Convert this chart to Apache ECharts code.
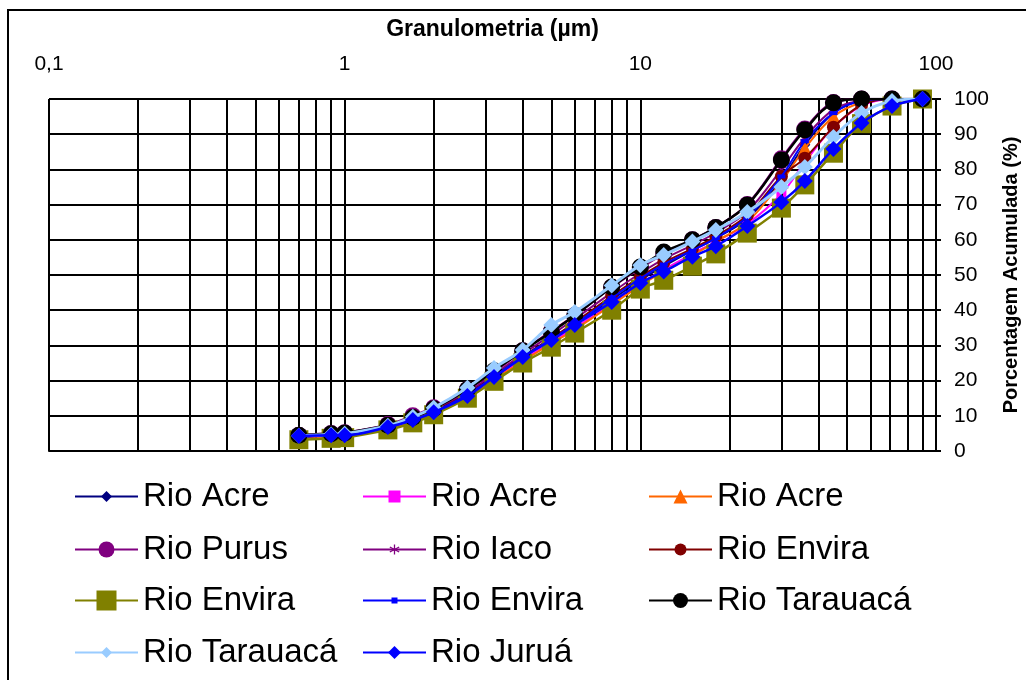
<!DOCTYPE html>
<html>
<head>
<meta charset="utf-8">
<script src="https://cdn.jsdelivr.net/npm/echarts@6/dist/echarts.min.js"></script>
<style>
html,body{margin:0;padding:0;background:#fff;}
#chart{width:1026px;height:680px;}
</style>
</head>
<body>
<div id="chart"></div>
<script>
// ---- data ----
const sizes = [0.7, 0.9, 1.0, 1.4, 1.7, 2.0, 2.6, 3.2, 4.0, 5.0, 6.0, 8.0, 10, 12, 15, 18, 23, 30, 36, 45, 56, 71, 90];
const minorTicks = [0.2,0.3,0.4,0.5,0.6,0.7,0.8,0.9,2,3,4,5,6,7,8,9,20,30,40,50,60,70,80,90];
const seriesNames = ["Rio Acre","Rio Acre","Rio Acre","Rio Purus","Rio Iaco","Rio Envira","Rio Envira","Rio Envira","Rio Tarauacá","Rio Tarauacá","Rio Juruá"];
const acre1     = [4.0,4.5,4.7,6.8,9.0,11.3,16.3,21.3,26.8,32.0,36.0,43.0,48.5,52.5,57.0,60.5,66.0,77.0,87.0,96.0,99.5,100,100];
const acre2     = [3.8,4.2,4.4,6.5,8.5,10.8,15.8,20.5,26.0,31.0,35.0,42.0,47.5,51.5,56.0,59.5,64.5,73.0,82.0,92.0,98.0,100,100];
const acre3     = [3.8,4.2,4.4,6.5,8.5,10.8,15.6,20.3,25.5,30.5,34.5,41.5,47.0,51.0,55.5,59.5,65.0,76.5,86.0,95.0,99.0,100,100];
const purus     = [4.5,5.0,5.2,7.5,10.0,12.3,17.5,22.5,28.5,34.0,38.5,46.5,52.0,56.0,60.0,63.5,70.0,83.0,91.5,99.0,100,100,100];
const iaco      = [4.2,4.6,4.8,7.0,9.3,11.6,16.8,21.8,27.5,33.0,37.5,45.0,50.5,54.5,58.5,62.0,68.0,80.0,89.0,97.0,99.5,100,100];
const envira1   = [4.0,4.5,4.7,6.9,9.0,11.2,16.2,21.2,26.8,32.0,36.5,44.0,49.5,53.5,57.5,61.0,67.0,78.0,83.2,92.0,98.3,100,100];
const envira2   = [3.2,3.6,3.8,6.0,8.0,10.3,15.0,19.8,25.0,29.5,33.5,40.0,46.0,48.5,52.5,56.0,61.9,69.0,75.6,84.6,93.0,98.0,100];
const envira3   = [4.0,4.4,4.6,6.8,8.8,11.0,16.0,21.0,26.5,31.8,36.0,43.5,49.0,53.0,57.0,60.5,66.5,78.0,88.0,96.0,99.5,100,100];
const tarauaca1 = [4.5,4.9,5.1,7.3,9.5,12.0,17.5,22.8,28.5,33.8,38.5,46.6,52.3,56.5,60.0,63.5,69.9,82.7,91.2,98.9,100,100,100];
const tarauaca2 = [4.3,4.7,4.9,7.2,9.7,12.3,18.0,23.6,28.7,35.8,39.5,47.0,52.8,55.7,59.5,62.8,67.9,75.0,80.7,89.2,96.0,99.4,100];
const jurua     = [4.3,4.5,4.5,6.8,8.8,11.0,15.6,21.0,26.7,31.5,35.8,42.3,47.7,51.0,55.2,58.2,63.9,70.7,76.7,85.8,93.2,98.0,100];
const yTicks = {min: 0, max: 100, interval: 10};
const xRange = {min: 0.1, max: 100};

const allValues = [acre1, acre2, acre3, purus, iaco, envira1, envira2, envira3, tarauaca1, tarauaca2, jurua];

// ---- styles ----
const asterisk = 'path://M-1.2,-10L1.2,-10L1.2,10L-1.2,10Z M-9.26,-3.96L-8.06,-6.04L9.26,3.96L8.06,6.04Z M8.06,-6.04L9.26,-3.96L-8.06,6.04L-9.26,3.96Z';
const styles = [
  {color:'#000080', symbol:'diamond', size:11, lw:2},
  {color:'#FF00FF', symbol:'rect', size:10, lw:2},
  {color:'#FF6600', symbol:'triangle', size:14, lw:2},
  {color:'#800080', symbol:'circle', size:17, lw:2.5},
  {color:'#800080', symbol:asterisk, size:10, lw:2},
  {color:'#800000', symbol:'circle', size:13, lw:2},
  {color:'#808000', symbol:'rect', size:19, lw:2.5},
  {color:'#0000FF', symbol:'rect', size:[8,4], lw:2},
  {color:'#000000', symbol:'circle', size:17, lw:2.5},
  {color:'#99CCFF', symbol:'diamond', size:16, lw:3},
  {color:'#0000FF', symbol:'diamond', size:16, lw:2.5}
];
const legendIcon = [11, 12, 14, 16, 10, 12, 20, 6, 15, 11, 13];

// unique internal names (zero-width suffixes) so duplicate labels get their own legend item
const uid = seriesNames.map((n, i) => n + '\u200B'.repeat(i));

const series = [{
  type: 'line', name: '__grid', data: [[0.1, 0]], showSymbol: false, symbol: 'none',
  lineStyle: {width: 0, opacity: 0}, silent: true, z: 1,
  markLine: {
    silent: true, symbol: 'none', label: {show: false},
    lineStyle: {color: '#000', width: 2, type: 'solid'},
    data: minorTicks.map(v => ({xAxis: v}))
  }
}];
allValues.forEach((vals, i) => {
  const st = styles[i];
  series.push({
    type: 'line', name: uid[i],
    data: sizes.map((s, k) => [s, vals[k]]),
    smooth: 0.35,
    symbol: st.symbol, symbolSize: st.size, showAllSymbol: true,
    itemStyle: {color: st.color, borderWidth: 0},
    lineStyle: {color: st.color, width: st.lw},
    z: 3 + i, animation: false
  });
});

const colX = [74, 362, 648];
const rowY = [495, 548, 599, 651];
const legends = uid.map((n, i) => {
  const col = i % 3, row = Math.floor(i / 3);
  return {
    show: true, selectedMode: false, data: [n],
    left: colX[col], top: rowY[row] - 15, padding: 0, itemGap: 0,
    itemWidth: 63, itemHeight: legendIcon[i] / 0.8,
    textStyle: {fontSize: 33, color: '#000', fontFamily: 'Liberation Sans, Arial, sans-serif'},
    formatter: name => name.replace(/\u200B/g, '')
  };
});

const chart = echarts.init(document.getElementById('chart'), null, {renderer: 'canvas'});
chart.setOption({
  animation: false,
  backgroundColor: '#fff',
  textStyle: {fontFamily: 'Liberation Sans, Arial, sans-serif'},
  grid: {left: 49, right: 90, top: 99, bottom: 229, containLabel: false, outerBoundsMode: 'none'},
  graphic: [{
    type: 'rect', shape: {x: 8, y: 10, width: 1040, height: 700},
    style: {fill: null, stroke: '#000', lineWidth: 2}, silent: true, z: 0
  }],
  legend: legends,
  xAxis: {
    type: 'log', logBase: 10, min: xRange.min, max: xRange.max, position: 'top',
    name: 'Granulometria (µm)', nameLocation: 'middle', nameGap: 58, nameMoveOverlap: false,
    nameTextStyle: {fontSize: 23, fontWeight: 'bold', color: '#000'},
    axisLine: {show: true, lineStyle: {color: '#000', width: 2}},
    axisTick: {show: true, length: 5, lineStyle: {color: '#000', width: 2}},
    axisLabel: {fontSize: 21, color: '#000', margin: 24, alignMinLabel: 'center', alignMaxLabel: 'center',
      formatter: v => String(+v.toPrecision(6)).replace('.', ',')},
    splitLine: {show: true, lineStyle: {color: '#000', width: 2}}
  },
  yAxis: {
    type: 'value', position: 'right', min: yTicks.min, max: yTicks.max, interval: yTicks.interval,
    name: 'Porcentagem Acumulada (%)', nameLocation: 'middle', nameGap: 65, nameRotate: 90, nameMoveOverlap: false,
    nameTextStyle: {fontSize: 20, fontWeight: 'bold', color: '#000'},
    axisLine: {show: true, lineStyle: {color: '#000', width: 2}},
    axisTick: {show: true, length: 5, lineStyle: {color: '#000', width: 2}},
    axisLabel: {fontSize: 21, color: '#000', margin: 18},
    splitLine: {show: true, lineStyle: {color: '#000', width: 2}}
  },
  series: series
});
</script>
</body>
</html>
